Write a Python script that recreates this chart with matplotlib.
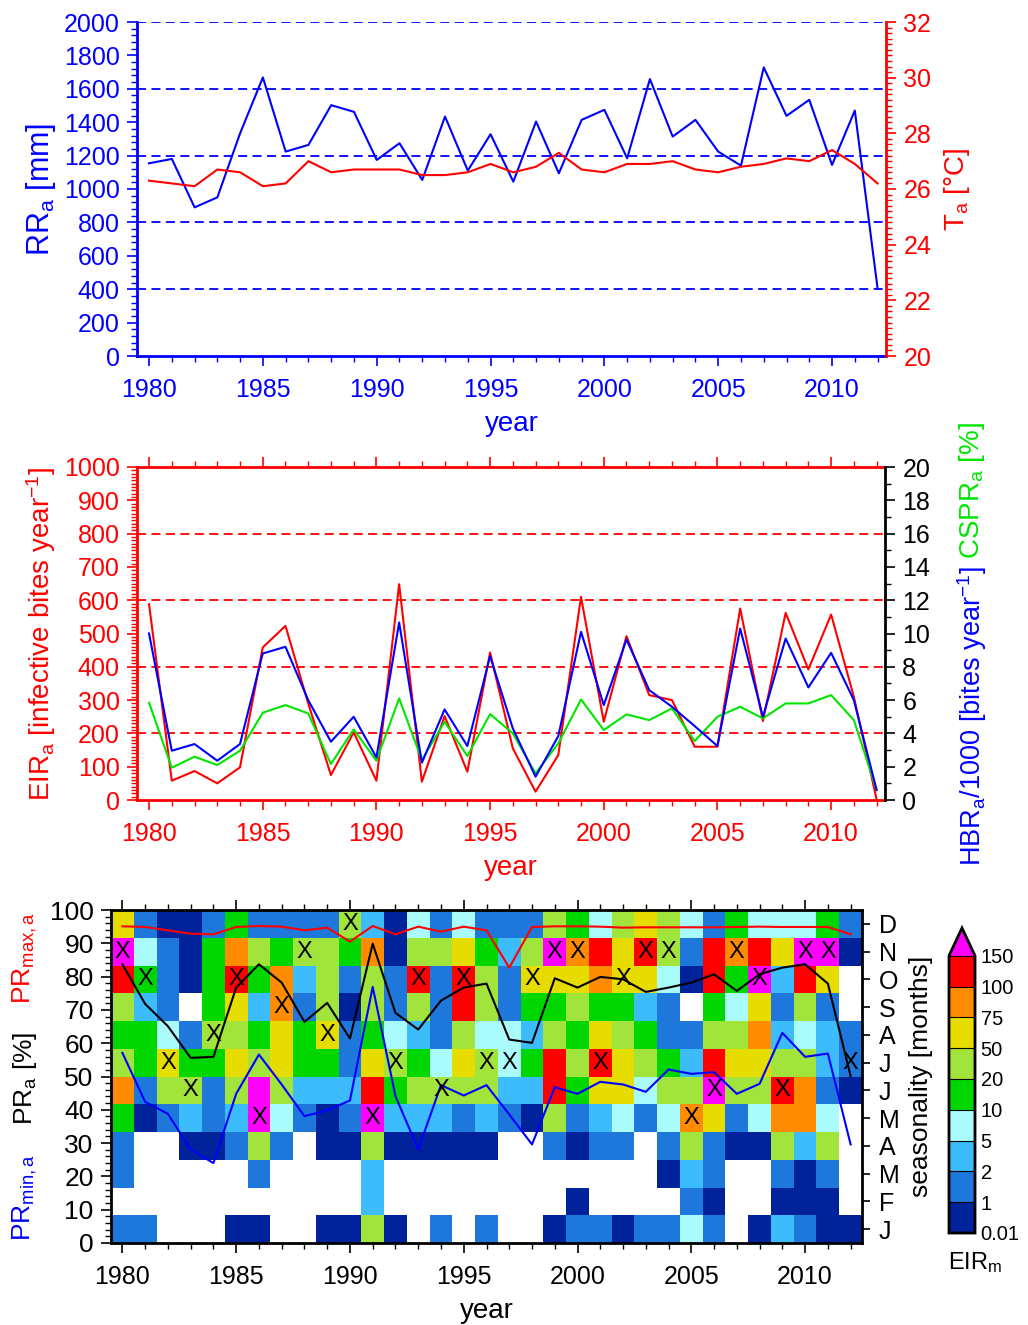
import matplotlib
matplotlib.use("Agg")
import matplotlib.pyplot as plt
import numpy as np
from matplotlib.colors import ListedColormap, BoundaryNorm
from matplotlib.ticker import MultipleLocator

plt.rcParams['font.family'] = ['Liberation Sans', 'DejaVu Sans']
plt.rcParams['mathtext.fontset'] = 'custom'
plt.rcParams['mathtext.rm'] = 'Liberation Sans'
plt.rcParams['mathtext.it'] = 'Liberation Sans'
plt.rcParams['mathtext.default'] = 'rm'

years = np.arange(1980, 2013)

# annual rainfall [mm] and temperature [C]
rr_a = [1154, 1180, 890, 950, 1334, 1668, 1224, 1264, 1502, 1462,
        1174, 1274, 1054, 1434, 1110, 1328, 1044, 1404, 1094, 1414,
        1474, 1184, 1658, 1314, 1414, 1224, 1140, 1728, 1438, 1534,
        1144, 1470, 404]
t_a = [26.3, 26.2, 26.1, 26.7, 26.6, 26.1, 26.2, 27.0, 26.6, 26.7,
       26.7, 26.7, 26.5, 26.5, 26.6, 26.9, 26.6, 26.8, 27.3, 26.7,
       26.6, 26.9, 26.9, 27.0, 26.7, 26.6, 26.8, 26.9, 27.1, 27.0,
       27.4, 26.9, 26.2]

# EIR, HBR/1000, CSPR
eir_a = [588, 58, 87, 50, 98, 458, 523, 290, 75, 203,
         58, 648, 55, 252, 85, 443, 155, 25, 135, 610,
         235, 492, 315, 300, 160, 160, 575, 237, 562, 392,
         557, 310, 2]
hbr_a = [10.0, 2.96, 3.36, 2.36, 3.36, 8.8, 9.2, 6.0, 3.5, 5.0,
         2.56, 10.66, 2.24, 5.44, 3.24, 8.64, 4.3, 1.4, 3.84, 10.1,
         5.7, 9.64, 6.6, 5.6, 4.44, 3.24, 10.3, 5.0, 9.7, 6.76,
         8.84, 6.0, 0.6]
cspr_a = [5.84, 1.94, 2.6, 2.1, 2.96, 5.24, 5.7, 5.2, 2.16, 4.24,
          2.36, 6.1, 2.4, 4.7, 2.64, 5.16, 4.0, 1.6, 3.4, 6.04,
          4.2, 5.14, 4.8, 5.5, 3.54, 5.0, 5.6, 4.9, 5.8, 5.8,
          6.3, 4.8, 0.6]

# parasite ratios [%]
pr_max = [95.1, 94.9, 93.9, 92.9, 92.7, 94.9, 95.2, 95.0, 93.9, 94.7,
          90.5, 95.2, 92.7, 95.0, 93.5, 95.0, 93.9, 82.7, 94.9, 95.1,
          95.1, 95.0, 94.7, 94.8, 94.8, 94.8, 94.8, 94.9, 95.0, 94.9,
          94.9, 94.9, 92.7]
pr_a = [83.7, 71.8, 65.1, 55.6, 55.9, 76.7, 83.7, 78.2, 66.4, 72.1,
        61.4, 89.9, 69.1, 64.1, 72.8, 76.7, 77.9, 61.1, 60.1, 79.5,
        76.7, 79.9, 79.2, 75.4, 76.7, 78.2, 80.7, 75.7, 80.7, 82.7,
        83.7, 77.9, 50.1]
pr_min = [57.1, 42.4, 38.8, 28.1, 24.0, 44.8, 56.6, 47.6, 38.1, 39.8,
          42.8, 76.9, 44.1, 28.1, 47.4, 44.3, 47.4, 38.6, 29.6, 46.8,
          44.8, 48.4, 47.6, 45.4, 52.1, 50.8, 51.3, 44.8, 47.8, 63.1,
          55.9, 56.9, 29.6]

# monthly EIR class per year (1980..2012), '.' = no transmission,
# 0:<1 1:1-2 2:2-5 3:5-10 4:10-20 5:20-50 6:50-75 7:75-100 8:100-150 9:>150
eir_m_class = {
    'Jan': "11...00..00" "50.1.1..011" "01131.02100",
    'Feb': "..........." "2........0." "...10..000.",
    'Mar': "1.....1...." "2.........." "..021..101.",
    'Apr': "1..00151.00" "500000..101" "1.15100525.",
    'May': "40121293101" "92221210512" "3137613773.",
    'Jun': "71551595222" "84555522846" "63559558710",
    'Jul': "54644656441" "65436534858" "65428665521",
    'Aug': "44315546461" "43215332546" "54115572321",
    'Sep': "521.4627150" "51518514454" "421.436151.",
    'Oct': "84104847251" "51818516667" "6630849286.",
    'Nov': "93104754554" "70556425978" "68518786990",
    'Dec': "61001411115" "20313111543" "56531433341",
}
class_value = {'.': 0.0, '0': 0.5, '1': 1.5, '2': 3.5, '3': 7, '4': 15,
               '5': 35, '6': 60, '7': 85, '8': 120, '9': 200}
# month (0=Jan) of the X mark per year
x_month = [10, 9, 6, 5, 7, 9, 4, 8, 10, 7, 11, 4, 6, 9, 5, 9, 6, 6, 9, 10,
           10, 6, 9, 10, 10, 4, 5, 10, 9, 5, 10, 10, 6]

months = ['Jan', 'Feb', 'Mar', 'Apr', 'May', 'Jun', 'Jul', 'Aug', 'Sep', 'Oct', 'Nov', 'Dec']
month_labels = ['J', 'F', 'M', 'A', 'M', 'J', 'J', 'A', 'S', 'O', 'N', 'D']
bounds = [0.01, 1, 2, 5, 10, 20, 50, 75, 100, 150]
bound_labels = ['0.01', '1', '2', '5', '10', '20', '50', '75', '100', '150']
colors = ['#00229a', '#1e78dc', '#3cbcfa', '#aafcfc', '#00d600',
          '#a0e43c', '#e6dc00', '#ff8c00', '#ff0000']

eir_m = np.array([[class_value[c] for c in eir_m_class[m]] for m in months])

W, H = 1028, 1325
def rect(l, t, r, b):
    return [l / W, 1 - b / H, (r - l) / W, (b - t) / H]

fig = plt.figure(figsize=(W / 100, H / 100), dpi=100)
LW = 1.5
TS = 18
dash = (0, (5, 3))
green = '#00e600'

def style_ticks(ax, axis, color):
    pad = 8.5 if axis == 'x' else 5
    ax.tick_params(axis=axis, which='major', direction='out', length=7.5,
                   width=1.2, colors=color, labelsize=TS, pad=pad)
    ax.tick_params(axis=axis, which='minor', direction='out', length=4,
                   width=1.0, colors=color)

# ---------------- top panel ----------------
ax1 = fig.add_axes(rect(137, 22, 886, 356))
ax1.plot(years, rr_a, color='blue', lw=LW, zorder=3)
for y in [400, 800, 1200, 1600, 2000]:
    ax1.axhline(y, color='blue', lw=1.3, ls=dash, zorder=1)
ax1.set_xlim(1979.47, 2012.37)
ax1.set_ylim(0, 2000)
ax1.yaxis.set_major_locator(MultipleLocator(200))
ax1.yaxis.set_minor_locator(MultipleLocator(40))
ax1.xaxis.set_major_locator(MultipleLocator(5))
ax1.xaxis.set_minor_locator(MultipleLocator(1))
style_ticks(ax1, 'x', 'blue')
style_ticks(ax1, 'y', 'blue')
ax1.spines['top'].set_visible(False)
ax1.spines['right'].set_visible(False)
for s in ['left', 'bottom']:
    ax1.spines[s].set_color('blue')
    ax1.spines[s].set_linewidth(2)
ax1.set_xlabel('year', color='blue', fontsize=20, labelpad=6)
ax1.set_ylabel('RR$_a$ [mm]', color='blue', fontsize=22, labelpad=4)

ax1b = ax1.twinx()
ax1b.plot(years, t_a, color='red', lw=LW)
ax1b.set_ylim(20, 32)
ax1b.yaxis.set_major_locator(MultipleLocator(2))
ax1b.yaxis.set_minor_locator(MultipleLocator(0.2))
style_ticks(ax1b, 'y', 'red')
for s in ['left', 'top', 'bottom']:
    ax1b.spines[s].set_visible(False)
ax1b.spines['right'].set_color('red')
ax1b.spines['right'].set_linewidth(2)
ax1b.set_ylabel('T$_a$ [°C]', color='red', fontsize=20, labelpad=8)

# ---------------- middle panel ----------------
ax2 = fig.add_axes(rect(137, 467, 885, 800))
ax2.plot(years, eir_a, color='red', lw=LW, zorder=3)
for y in [200, 400, 600, 800]:
    ax2.axhline(y, color='red', lw=1.3, ls=dash, zorder=1)
ax2.set_xlim(1979.47, 2012.37)
ax2.set_ylim(0, 1000)
ax2.yaxis.set_major_locator(MultipleLocator(100))
ax2.yaxis.set_minor_locator(MultipleLocator(10))
ax2.xaxis.set_major_locator(MultipleLocator(5))
ax2.xaxis.set_minor_locator(MultipleLocator(1))
style_ticks(ax2, 'x', 'red')
style_ticks(ax2, 'y', 'red')
ax2.tick_params(axis='x', which='both', top=True)
for s in ['left', 'top', 'bottom']:
    ax2.spines[s].set_color('red')
    ax2.spines[s].set_linewidth(2)
ax2.spines['right'].set_visible(False)
ax2.set_xlabel('year', color='red', fontsize=20, labelpad=6)
ax2.set_ylabel('EIR$_a$ [infective bites year$^{-1}$]', color='red', fontsize=20, labelpad=4)

ax2b = ax2.twinx()
ax2b.plot(years, cspr_a, color=green, lw=LW)
ax2b.plot(years, hbr_a, color='blue', lw=LW)
ax2b.set_ylim(0, 20)
ax2b.yaxis.set_major_locator(MultipleLocator(2))
ax2b.yaxis.set_minor_locator(MultipleLocator(1))
style_ticks(ax2b, 'y', 'black')
for s in ['left', 'top', 'bottom']:
    ax2b.spines[s].set_visible(False)
ax2b.spines['right'].set_linewidth(2)
fig.text(972 / W, 1 - 866 / H, 'HBR$_a$/1000 [bites year$^{-1}$]', color='blue',
         fontsize=19.5, rotation=90, ha='center', va='bottom')
fig.text(972 / W, 1 - 559 / H, 'CSPR$_a$ [%]', color=green,
         fontsize=20, rotation=90, ha='center', va='bottom')

# ---------------- bottom panel ----------------
ax3 = fig.add_axes(rect(111, 910, 862, 1243))
cmap = ListedColormap(colors)
cmap.set_under('white')
cmap.set_over('#ff00ff')
norm = BoundaryNorm(bounds, cmap.N)
xe = np.arange(1979.5, 2013.5, 1)
ye = np.linspace(0, 100, 13)
mesh = ax3.pcolormesh(xe, ye, eir_m, cmap=cmap, norm=norm)
ax3.plot(years, pr_max, color='red', lw=LW)
ax3.plot(years, pr_a, color='black', lw=LW)
ax3.plot(years, pr_min, color='blue', lw=LW)
for yr, m in zip(years, x_month):
    ax3.text(yr, (m + 0.5) * 100 / 12, 'X', fontsize=17, ha='center', va='center')
ax3.set_xlim(1979.5, 2012.5)
ax3.set_ylim(0, 100)
ax3.yaxis.set_major_locator(MultipleLocator(10))
ax3.yaxis.set_minor_locator(MultipleLocator(2))
ax3.xaxis.set_major_locator(MultipleLocator(5))
ax3.xaxis.set_minor_locator(MultipleLocator(1))
style_ticks(ax3, 'x', 'black')
style_ticks(ax3, 'y', 'black')
ax3.tick_params(axis='y', labelsize=19)
ax3.tick_params(axis='x', which='both', top=True)
for s in ax3.spines.values():
    s.set_linewidth(2)
ax3.set_xlabel('year', fontsize=20, labelpad=6)

ax3b = ax3.twinx()
ax3b.set_ylim(0, 100)
ax3b.set_yticks((np.arange(12) + 0.5) * 100 / 12)
ax3b.set_yticklabels(month_labels)
ax3b.tick_params(axis='y', direction='out', length=6, width=1.2, labelsize=TS, pad=6)
ax3b.set_ylabel('seasonality [months]', fontsize=19, labelpad=7)

fig.text(25 / W, 1 - 958 / H, 'PR$_{max,a}$', color='red', fontsize=19,
         rotation=90, ha='center', va='center')
fig.text(25 / W, 1 - 1078 / H, 'PR$_a$ [%]', color='black', fontsize=19,
         rotation=90, ha='center', va='center')
fig.text(25 / W, 1 - 1197 / H, 'PR$_{min,a}$', color='blue', fontsize=19,
         rotation=90, ha='center', va='center')

# colorbar
cax = fig.add_axes(rect(949, 928, 975, 1233))
cb = fig.colorbar(mesh, cax=cax, extend='max', extendfrac=0.1,
                  spacing='uniform', drawedges=True, ticks=bounds)
cb.ax.set_yticklabels(bound_labels)
cb.ax.tick_params(length=0, labelsize=14.5, pad=4)
cb.outline.set_linewidth(2)
cb.dividers.set_linewidth(0.8)
fig.text(975 / W, 1 - 1263 / H, 'EIR$_m$', fontsize=17, ha='center', va='center')

fig.savefig('out.png', dpi=100)
